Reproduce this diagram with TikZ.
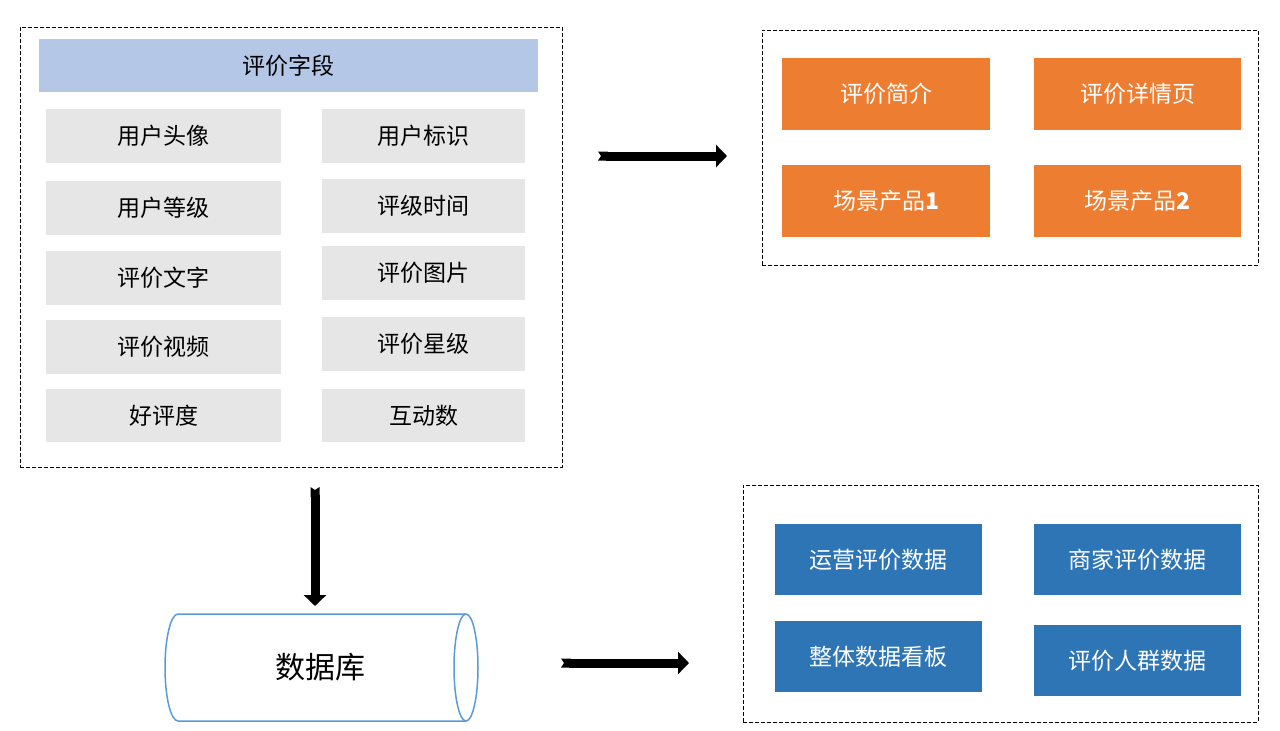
\documentclass[tikz,border=0pt]{standalone}
\usepackage{fontspec}
\setmainfont{Noto Sans CJK SC}
\usetikzlibrary{arrows.meta}
\definecolor{hdrblue}{HTML}{B4C7E7}
\definecolor{cellgray}{HTML}{E7E6E6}
\definecolor{orangebox}{HTML}{ED7D31}
\definecolor{bluebox}{HTML}{2E75B6}
\definecolor{cylblue}{HTML}{5B9BD5}
\tikzset{
  frame/.style={draw=black, dashed, line width=1pt, dash pattern=on 4pt off 2pt},
  cell/.style={fill=cellgray, inner sep=0pt, font=\fontsize{23}{27}\selectfont, text=black},
  obox/.style={fill=orangebox, inner sep=0pt, font=\fontsize{23}{27}\selectfont, text=white},
  bbox/.style={fill=bluebox, inner sep=0pt, font=\fontsize{23}{27}\selectfont, text=white},
  cyl/.style={draw=cylblue, line width=1.5pt},
  bigarrow/.style={line width=9pt, {Triangle Cap[reversed,length=3pt]}-{Triangle[length=11pt,width=22pt]}},
}
\newcommand{\rectnode}[6]{\node[#1, minimum width=#4-#2, minimum height=#5-#3] (#6) at ({(#2+#4)/2},{(#3+#5)/2})}
\begin{document}
\begin{tikzpicture}[x=1pt,y=-1pt]
\useasboundingbox (0,0) rectangle (1280,731);
% left frame
\rectnode{frame}{20}{27}{562}{467}{fieldframe} {};
\rectnode{fill=hdrblue,inner sep=0pt,font=\fontsize{23}{27}\selectfont}{39}{39}{538}{92}{hdr} {评价字段};
\rectnode{cell}{46}{109}{281}{163}{c1} {用户头像};
\rectnode{cell}{46}{181}{281}{235}{c2} {用户等级};
\rectnode{cell}{46}{251}{281}{305}{c3} {评价文字};
\rectnode{cell}{46}{320}{281}{374}{c4} {评价视频};
\rectnode{cell}{46}{389}{281}{442}{c5} {好评度};
\rectnode{cell}{322}{109}{525}{163}{d1} {用户标识};
\rectnode{cell}{322}{179}{525}{233}{d2} {评级时间};
\rectnode{cell}{322}{246}{525}{300}{d3} {评价图片};
\rectnode{cell}{322}{317}{525}{371}{d4} {评价星级};
\rectnode{cell}{322}{389}{525}{442}{d5} {互动数};
% top right frame
\rectnode{frame}{762}{30}{1258}{265}{useframe} {};
\rectnode{obox}{782}{58}{990}{130}{o1} {评价简介};
\rectnode{obox}{1034}{58}{1241}{130}{o2} {评价详情页};
\rectnode{obox}{782}{165}{990}{237}{o3} {场景产品\textbf{1}};
\rectnode{obox}{1034}{165}{1241}{237}{o4} {场景产品\textbf{2}};
% bottom right frame
\rectnode{frame}{743}{485}{1258}{722}{dataframe} {};
\rectnode{bbox}{775}{524}{982}{595}{b1} {运营评价数据};
\rectnode{bbox}{1034}{524}{1241}{595}{b2} {商家评价数据};
\rectnode{bbox}{775}{621}{982}{692}{b3} {整体数据看板};
\rectnode{bbox}{1034}{625}{1241}{696}{b4} {评价人群数据};
% database cylinder
\draw[cyl] (466,614) -- (178,614) arc[start angle=270, end angle=90, x radius=13, y radius=53.5] -- (466,721);
\draw[cyl] (466,667.5) ellipse[x radius=12, y radius=53.5];
\node[font=\fontsize{30}{34}\selectfont, inner sep=0pt] (db) at (320,667) {数据库};
% arrows
\coordinate (a1s) at (598,156);
\coordinate (a1e) at (727,156);
\coordinate (a2s) at (315,487);
\coordinate (a2e) at (315,606);
\coordinate (a3s) at (561,663);
\coordinate (a3e) at (689,663);
\draw[bigarrow] (a1s) -- (a1e);
\draw[bigarrow] (a2s) -- (a2e);
\draw[bigarrow] (a3s) -- (a3e);
\end{tikzpicture}
\end{document}
